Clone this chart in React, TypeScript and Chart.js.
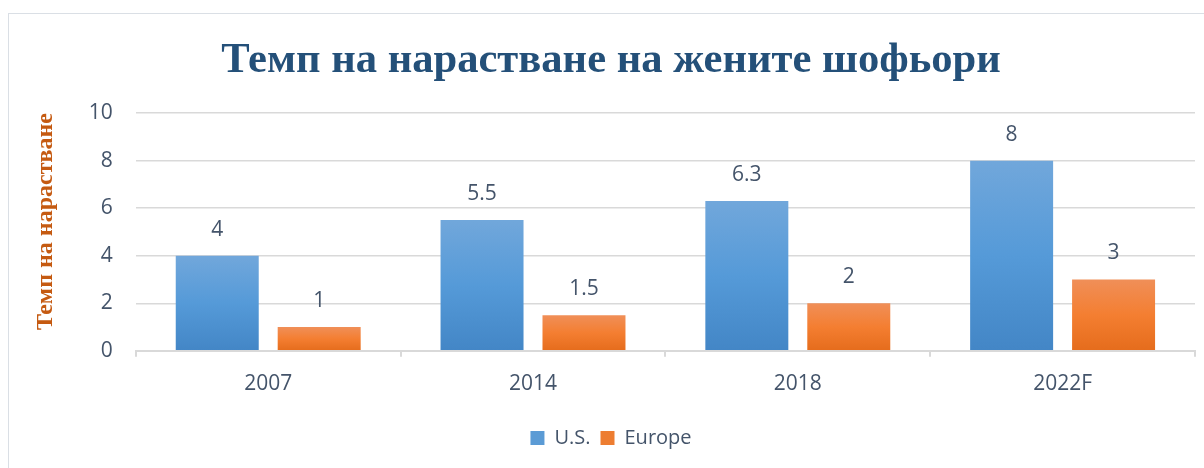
import React, { useEffect, useRef } from "react";
import { Chart, registerables } from "chart.js";

Chart.register(...registerables);

const categories = ["2007", "2014", "2018", "2022F"];
const usValues = [4, 5.5, 6.3, 8];
const europeValues = [1, 1.5, 2, 3];
const seriesNames = ["U.S.", "Europe"];
const chartTitle = "Темп на нарастване на жените шофьори";
const yAxisTitle = "Темп на нарастване";

const TEXT = "#44546a";
const SANS = "'Open Sans', sans-serif";
const SERIF = "'Liberation Serif', 'Times New Roman', serif";

const BLUE = ["#71a7db", "#559ad8", "#4386c6"];
const ORANGE = ["#f08f58", "#f47e31", "#e56c1c"];

function gradientFill(stops: string[], solid: string) {
  return (ctx: any) => {
    const chart = ctx.chart;
    const y = chart.scales && chart.scales.y;
    if (!y || ctx.dataIndex === undefined || ctx.type !== "data") return solid;
    const v = ctx.dataset.data[ctx.dataIndex];
    const top = y.getPixelForValue(v);
    const bottom = y.getPixelForValue(0);
    if (!isFinite(top) || !isFinite(bottom) || top === bottom) return solid;
    const g = chart.ctx.createLinearGradient(0, top, 0, bottom);
    g.addColorStop(0, stops[0]);
    g.addColorStop(0.5, stops[1]);
    g.addColorStop(1, stops[2]);
    return g;
  };
}

const dataLabelPlugin = {
  id: "barValueLabels",
  afterDatasetsDraw(chart: any) {
    const ctx = chart.ctx;
    ctx.save();
    ctx.font = `21px ${SANS}`;
    ctx.fillStyle = TEXT;
    ctx.textAlign = "center";
    ctx.textBaseline = "middle";
    chart.data.datasets.forEach((ds: any, di: number) => {
      const meta = chart.getDatasetMeta(di);
      meta.data.forEach((bar: any, i: number) => {
        ctx.fillText(String(ds.data[i]), bar.x, bar.y - 26);
      });
    });
    ctx.restore();
  },
};

export default function App() {
  const ref = useRef<HTMLCanvasElement | null>(null);

  useEffect(() => {
    if (!ref.current) return;
    const chart = new Chart(ref.current, {
      type: "bar",
      data: {
        labels: categories,
        datasets: [
          {
            label: seriesNames[0],
            data: usValues,
            backgroundColor: gradientFill(BLUE, "#5b9bd5"),
            categoryPercentage: 0.77,
            barPercentage: 0.814,
          },
          {
            label: seriesNames[1],
            data: europeValues,
            backgroundColor: gradientFill(ORANGE, "#ed7d31"),
            categoryPercentage: 0.77,
            barPercentage: 0.814,
          },
        ],
      },
      options: {
        animation: false,
        responsive: false,
        layout: { padding: { left: 18, right: 9, top: 0, bottom: 10 } },
        plugins: {
          title: {
            display: true,
            text: chartTitle,
            color: "#245079",
            font: { family: SERIF, size: 42.6, weight: "bold" },
            padding: { top: 21, bottom: 27 },
          },
          legend: {
            position: "bottom",
            labels: {
              boxWidth: 14,
              boxHeight: 14,
              padding: 10,
              color: TEXT,
              font: { family: SANS, size: 20 },
              generateLabels: () => [
                { text: seriesNames[0], fillStyle: "#5b9bd5", strokeStyle: "#5b9bd5", lineWidth: 0, datasetIndex: 0, fontColor: TEXT },
                { text: seriesNames[1], fillStyle: "#ed7d31", strokeStyle: "#ed7d31", lineWidth: 0, datasetIndex: 1, fontColor: TEXT },
              ],
            },
          },
          tooltip: { enabled: false },
        },
        scales: {
          x: {
            grid: {
              drawOnChartArea: false,
              drawTicks: true,
              tickLength: 6,
              color: "#d9d9d9",
              lineWidth: 2,
            },
            border: { display: true, color: "#d9d9d9", width: 2 },
            ticks: { color: TEXT, font: { family: SANS, size: 21 }, padding: 15 },
            title: { display: true, text: "", font: { size: 5 }, padding: { top: 0, bottom: 0 } },
          },
          y: {
            min: 0,
            max: 10,
            ticks: { stepSize: 2, color: TEXT, font: { family: SANS, size: 21 }, padding: 23 },
            grid: { color: "#d9d9d9", lineWidth: 1.5, drawTicks: false },
            border: { display: false },
            title: {
              display: true,
              text: yAxisTitle,
              align: "end",
              color: "#c55a11",
              font: { family: SERIF, size: 24, weight: "bold" },
              padding: { top: 4, bottom: 6 },
            },
          },
        },
      },
      plugins: [dataLabelPlugin],
    } as any);
    return () => chart.destroy();
  }, []);

  return (
    <div
      style={{
        position: "absolute",
        left: 8,
        top: 13,
        width: 1195,
        height: 454,
        borderTop: "1px solid #dadfe5",
        borderLeft: "1px solid #dadfe5",
        background: "#fff",
      }}
    >
      <canvas ref={ref} width={1195} height={454} style={{ display: "block", width: 1195, height: 454 }} />
    </div>
  );
}
